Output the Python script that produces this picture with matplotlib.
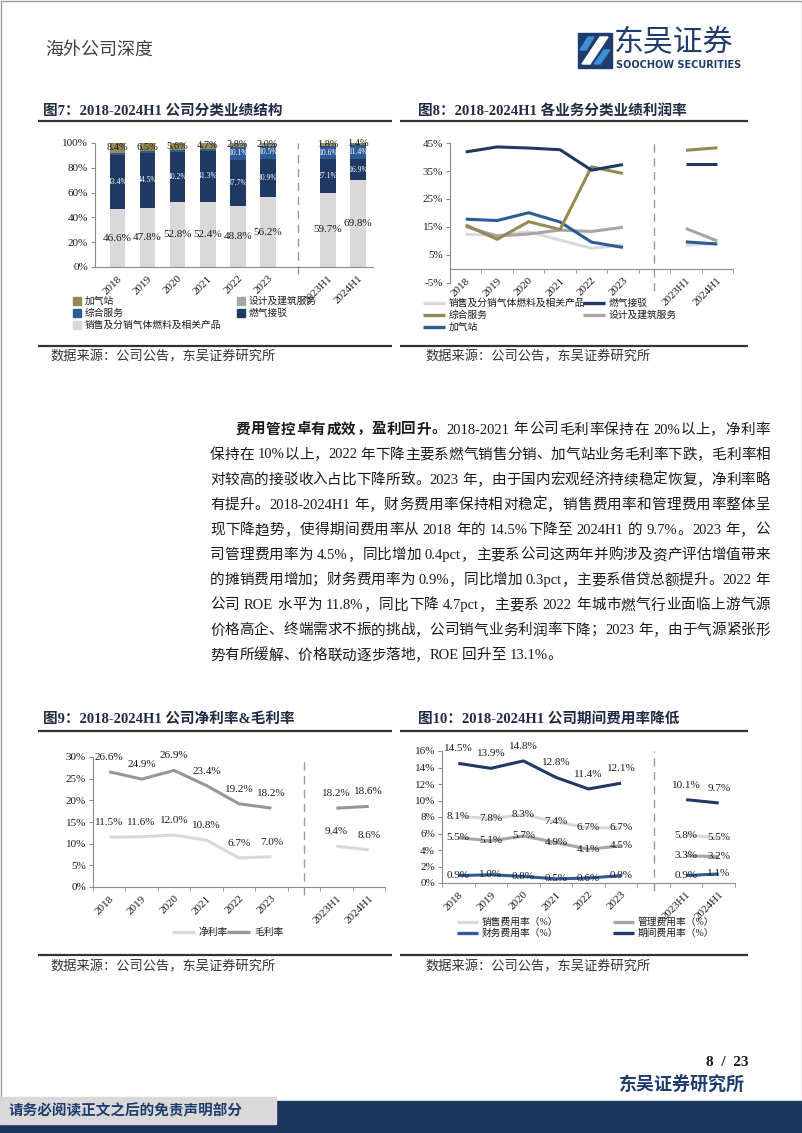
import re
import numpy as np
import matplotlib
matplotlib.use('Agg')
import matplotlib.pyplot as plt
from matplotlib.patches import Rectangle, Polygon

plt.rcParams['font.family'] = ['Liberation Serif', 'Noto Sans CJK SC', 'DejaVu Sans']

W, H = 802, 1133
NAVY = '#1f3864'
BLUE = '#2f5c97'
OLIVE = '#948a54'
GRAY = '#a6a6a6'
LGRAY = '#d9d9d9'
AX = '#8c8c8c'
TXT = '#1a1a1a'

# ---- data ----
years = ['2018', '2019', '2020', '2021', '2022', '2023', '2023H1', '2024H1']
xpos = [0, 1, 2, 3, 4, 5, 7, 8]

# fig 7: revenue structure (%)
rev_sales = [46.6, 47.8, 52.8, 52.4, 48.8, 56.2, 59.7, 69.8]
rev_conn = [43.4, 44.5, 40.2, 41.3, 37.7, 30.9, 27.1, 16.9]
rev_service = [1.6, 1.2, 1.4, 1.6, 10.1, 10.5, 10.6, 11.4]
rev_design = [0.0, 0.0, 0.0, 0.0, 0.6, 0.4, 0.8, 0.5]
rev_station = [8.4, 6.5, 5.6, 4.7, 2.8, 2.0, 1.8, 1.4]

# fig 8: margins by segment (%)
m_sales = [12.4, 12.0, 13.3, 10.3, 7.4, 8.6, 8.6, 9.2]
m_conn = [41.8, 43.6, 43.2, 42.6, 35.3, 37.3, 37.4, 37.4]
m_service = [15.7, 10.6, 16.9, 14.1, 36.5, 34.1, 42.4, 43.3]
m_design = [15.1, 11.8, 12.5, 13.9, 13.4, 14.9, 14.5, 10.0]
m_station = [17.8, 17.3, 20.1, 16.8, 9.6, 7.7, 9.7, 8.9]

# fig 9
net_margin = [11.5, 11.6, 12.0, 10.8, 6.7, 7.0, 9.4, 8.6]
gross_margin = [26.6, 24.9, 26.9, 23.4, 19.2, 18.2, 18.2, 18.6]

# fig 10
sell_rate = [8.1, 7.8, 8.3, 7.4, 6.7, 6.7, 5.8, 5.5]
admin_rate = [5.5, 5.1, 5.7, 4.9, 4.1, 4.5, 3.3, 3.2]
fin_rate = [0.9, 1.0, 0.8, 0.5, 0.6, 0.9, 0.9, 1.1]
period_rate = [14.5, 13.9, 14.8, 12.8, 11.4, 12.1, 10.1, 9.7]

para = [
    "保持在 10%以上，2022 年下降主要系燃气销售分销、加气站业务毛利率下跌，毛利率相",
    "对较高的接驳收入占比下降所致。2023 年，由于国内宏观经济持续稳定恢复，净利率略",
    "有提升。2018-2024H1 年，财务费用率保持相对稳定，销售费用率和管理费用率整体呈",
    "现下降趋势，使得期间费用率从 2018 年的 14.5%下降至 2024H1 的 9.7%。2023 年，公",
    "司管理费用率为 4.5%，同比增加 0.4pct，主要系公司这两年并购涉及资产评估增值带来",
    "的摊销费用增加；财务费用率为 0.9%，同比增加 0.3pct，主要系借贷总额提升。2022 年",
    "公司 ROE 水平为 11.8%，同比下降 4.7pct，主要系 2022 年城市燃气行业面临上游气源",
    "价格高企、终端需求不振的挑战，公司销气业务利润率下降；2023 年，由于气源紧张形",
    "势有所缓解、价格联动逐步落地，ROE 回升至 13.1%。",
]

fig = plt.figure(figsize=(W / 100, H / 100), dpi=100)
bg = fig.add_axes([0, 0, 1, 1])
bg.set_xlim(0, W)
bg.set_ylim(H, 0)
bg.axis('off')


def px_axes(l, t, r, b):
    ax = fig.add_axes([l / W, 1 - b / H, (r - l) / W, (b - t) / H])
    ax.patch.set_alpha(0)
    return ax


def style(ax, lo, hi, step, xlo=-0.5, xhi=8.5):
    ax.set_xlim(xlo, xhi)
    ax.set_ylim(lo, hi)
    ax.set_yticks(np.arange(lo, hi + 0.01, step))
    ax.yaxis.set_major_formatter(lambda v, p: f'{v:.0f}%')
    for s in ['top', 'right']:
        ax.spines[s].set_visible(False)
    for s in ['left', 'bottom']:
        ax.spines[s].set_color(AX)
        ax.spines[s].set_linewidth(0.8)
    ax.tick_params(axis='y', length=3, color=AX, labelsize=8, pad=2, labelcolor=TXT)
    ax.set_xticks(xpos)
    ax.set_xticklabels(years, rotation=45, ha='right', rotation_mode='anchor', fontsize=8, color=TXT)
    ax.set_xticks([i + 0.5 for i in range(-1, 9)], minor=True)
    ax.tick_params(axis='x', which='major', length=0, pad=5)
    ax.tick_params(axis='x', which='minor', length=3, color=AX)
    ax.plot([6, 6], [lo - (hi - lo) * 0.06, hi], ls=(0, (6, 4)), color='#9a9a9a', lw=1, clip_on=False)


def split_plot(ax, vals, color, lw=2.2):
    ax.plot(xpos[:6], vals[:6], color=color, lw=lw, solid_capstyle='butt')
    ax.plot(xpos[6:], vals[6:], color=color, lw=lw, solid_capstyle='butt')


# ---- page decorations ----
bg.add_patch(Rectangle((0.5, 0.5), W - 1, H - 1, fill=False, ec='#9a9a9a', lw=1))
bg.text(45, 50, '海外公司深度', fontsize=13, color='#404040', va='center')
# logo
bg.add_patch(Rectangle((578, 33), 34, 35, color='#1f3c6e'))
bg.add_patch(Polygon([(582, 64), (590, 64), (608, 37), (600, 37)], closed=True, color='white'))
bg.add_patch(Polygon([(594, 64), (600, 64), (610, 50), (604, 50)], closed=True, color='#3d8fd1'))
bg.add_patch(Polygon([(580, 50), (586, 50), (594, 37), (588, 37)], closed=True, color='#3d8fd1'))
bg.text(614, 43, '东吴证券', fontsize=21.5, color='#1f3c6e', va='center', family=['Noto Sans CJK SC'])
bg.text(616, 65, 'SOOCHOW SECURITIES', fontsize=7, color='#1f3c6e', va='center',
        fontweight='bold', family=['DejaVu Sans'])

for (x0, x1, tx) in [(38, 392, 43), (400, 748, 418)]:
    for yl in (121, 346, 731, 955):
        bg.plot([x0, x1], [yl, yl], color='#333333', lw=1.6, solid_capstyle='butt')
    for ys in (357, 967):
        bg.text(tx + 7, ys, '数据来源：公司公告，东吴证券研究所', fontsize=9.5, color='#333333', va='center')

titles = [(43, 111, '图7：2018-2024H1 公司分类业绩结构'),
          (418, 111, '图8：2018-2024H1 各业务分类业绩利润率'),
          (43, 719, '图9：2018-2024H1 公司净利率&毛利率'),
          (418, 719, '图10：2018-2024H1 公司期间费用率降低')]
for x, y, s in titles:
    bg.text(x, y, s, fontsize=10.5, fontweight='bold', color='#1f2a44', va='center')

# footer
bg.text(748, 1063, '8  /  23', fontsize=11, fontweight='bold', ha='right', va='center', color=TXT)
bg.text(745, 1086, '东吴证券研究所', fontsize=13, ha='right', va='center', color='#1f3c6e', fontweight='bold')
bg.add_patch(Rectangle((0, 1101), W, 32, color='#1b365d'))
bg.add_patch(Rectangle((0, 1097), 276, 27, color='#d9d9d9'))
bg.text(9, 1111, '请务必阅读正文之后的免责声明部分', fontsize=10.5, fontweight='bold', va='center', color='#1f3c6e')

# ---- paragraph (justified) ----
renderer = fig.canvas.get_renderer()


def put_line(y, parts, x0, x1, size, justify=True):
    items = []
    for s, wt in parts:
        for tk in re.findall(r'[A-Za-z0-9.%\-]+| |.', s):
            if tk == ' ':
                items.append((None, size * 0.25 * 100 / 72))
                continue
            t = bg.text(0, y, tk, fontsize=size, fontweight=wt, va='center', ha='left', color=TXT)
            items.append((t, t.get_window_extent(renderer).width))
    total = sum(w for _, w in items)
    gap = (x1 - x0 - total) / (len(items) - 1) if justify else 0
    x = x0
    for t, w in items:
        if t is not None:
            t.set_x(x)
        x += w + gap


PS = 10.5
put_line(430, [('费用管控卓有成效，盈利回升。', 'bold'),
               ('2018-2021 年公司毛利率保持在 20%以上，净利率', 'normal')], 236, 770, PS)
for i, s in enumerate(para):
    put_line(455 + 25.1 * i, [(s, 'normal')], 210, 770, PS, justify=(i < len(para) - 1))

# ---- fig 7: stacked bars ----
ax7 = px_axes(95, 143, 373, 267)
style(ax7, 0, 100, 20, xlo=-0.75, xhi=8.35)
ax7.set_xticks([], minor=True)
bottom = np.zeros(len(years))
stack = [(rev_sales, LGRAY), (rev_conn, NAVY), (rev_service, BLUE), (rev_design, GRAY), (rev_station, OLIVE)]
mids = []
for vals, col in stack:
    v = np.array(vals)
    ax7.bar(xpos, v, 0.52, bottom=bottom, color=col, zorder=2)
    mids.append(bottom + v / 2)
    bottom = bottom + v
for i, x in enumerate(xpos):
    ax7.text(x, mids[0][i], f'{rev_sales[i]}%', ha='center', va='center', fontsize=8, color=TXT, zorder=3)
    ax7.text(x, mids[1][i], f'{rev_conn[i]}%', ha='center', va='center', fontsize=5.5, color='white', zorder=3)
    if rev_service[i] >= 5:
        ax7.text(x, mids[2][i], f'{rev_service[i]}%', ha='center', va='center', fontsize=5.5, color='white', zorder=3)
    ax7.text(x, max(mids[4][i], 96.5), f'{rev_station[i]}%', ha='center', va='center', fontsize=7.5,
             color=TXT, zorder=3)

leg7 = [(77, 301, OLIVE, '加气站'), (241, 301, GRAY, '设计及建筑服务'),
        (77, 313, BLUE, '综合服务'), (241, 313, NAVY, '燃气接驳'),
        (77, 325, LGRAY, '销售及分销气体燃料及相关产品')]
for x, y, c, s in leg7:
    bg.add_patch(Rectangle((x - 4, y - 4), 8, 8, color=c))
    bg.text(x + 8, y, s, fontsize=7, va='center', color=TXT)

# ---- fig 8: segment margins ----
ax8 = px_axes(450, 143, 733, 283)
ax8.spines['bottom'].set_position(('data', 0))
style(ax8, -5, 45, 10)
for vals, col in [(m_sales, LGRAY), (m_design, GRAY), (m_station, BLUE), (m_service, OLIVE), (m_conn, NAVY)]:
    split_plot(ax8, vals, col)

leg8 = [(423, 303, LGRAY, '销售及分销气体燃料及相关产品'), (583, 303, NAVY, '燃气接驳'),
        (423, 315, OLIVE, '综合服务'), (583, 315, GRAY, '设计及建筑服务'),
        (423, 327, BLUE, '加气站')]
for x, y, c, s in leg8:
    bg.plot([x, x + 22], [y, y], color=c, lw=2.4, solid_capstyle='butt')
    bg.text(x + 26, y, s, fontsize=7, va='center', color=TXT)

# ---- fig 9: net & gross margin ----
ax9 = px_axes(93, 757, 385, 887)
style(ax9, 0, 30, 5)
split_plot(ax9, net_margin, LGRAY)
split_plot(ax9, gross_margin, '#969696')
for vals in (net_margin, gross_margin):
    for x, v in zip(xpos, vals):
        ax9.annotate(f'{v}%', (x, v), xytext=(0, 10.5), textcoords='offset points',
                     ha='center', va='center', fontsize=8, color=TXT)
for x, c, s in [(172, LGRAY, '净利率'), (227, '#969696', '毛利率')]:
    bg.plot([x, x + 23], [932, 932], color=c, lw=2.4, solid_capstyle='butt')
    bg.text(x + 27, 932, s, fontsize=7, va='center', color=TXT)

# ---- fig 10: expense ratios ----
ax10 = px_axes(442, 751, 735, 883)
style(ax10, 0, 16, 2)
split_plot(ax10, sell_rate, LGRAY)
split_plot(ax10, admin_rate, GRAY)
split_plot(ax10, fin_rate, BLUE)
split_plot(ax10, period_rate, NAVY)
for vals in (sell_rate, admin_rate, fin_rate):
    for x, v in zip(xpos, vals):
        ax10.annotate(f'{v}%', (x, v), xytext=(0, 0), textcoords='offset points',
                      ha='center', va='center', fontsize=8, color=TXT)
for x, v in zip(xpos, period_rate):
    ax10.annotate(f'{v}%', (x, v), xytext=(0, 10.5), textcoords='offset points',
                  ha='center', va='center', fontsize=8, color=TXT)
leg10 = [(457, 922, LGRAY, '销售费用率（%）'), (613, 922, GRAY, '管理费用率（%）'),
         (457, 933, BLUE, '财务费用率（%）'), (613, 933, NAVY, '期间费用率（%）')]
for x, y, c, s in leg10:
    bg.plot([x, x + 21], [y, y], color=c, lw=2.4, solid_capstyle='butt')
    bg.text(x + 25, y, s, fontsize=7, va='center', color=TXT)

fig.savefig('out.png', dpi=100)
